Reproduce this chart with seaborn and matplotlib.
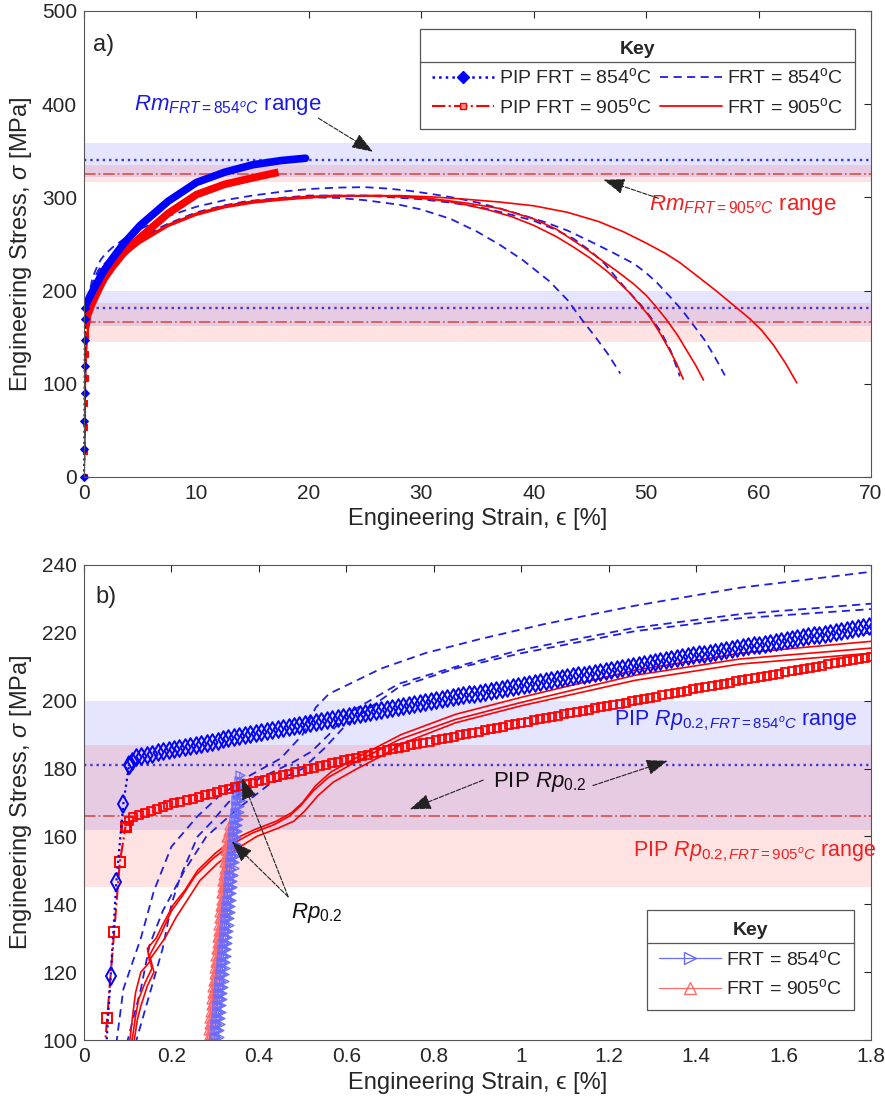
import numpy as np
import matplotlib
matplotlib.use("Agg")
import matplotlib.pyplot as plt
import seaborn as sns
from matplotlib.lines import Line2D
from matplotlib.patheffects import AbstractPathEffect
from matplotlib.markers import MarkerStyle
from matplotlib.path import Path
from matplotlib.transforms import Affine2D, IdentityTransform
from matplotlib.colors import to_rgba
from matplotlib.ticker import FuncFormatter

# ---------------- data (strain in %, stress in MPa) ----------------
pip854_strain = [0, 0.02, 0.034, 0.047, 0.061, 0.074, 0.09, 0.103, 0.117, 0.2, 0.311, 0.5,
                 0.677, 1.0, 1.4, 1.8, 2.5, 3.5, 5, 7.5, 10, 12.5, 15, 17.5, 19.7]
pip854_stress = [0, 30, 60, 90, 118.8, 146.6, 169.7, 181, 183.5, 185.5, 188.4, 193,
                 197.3, 204.5, 213.5, 222, 234, 250, 270, 296, 316, 327, 335, 339.5, 342]

pip905_strain = [0, 0.012, 0.024, 0.036, 0.053, 0.069, 0.082, 0.095, 0.107, 0.2, 0.33, 0.5,
                 0.68, 1.0, 1.4, 1.8, 2.5, 3.5, 5, 7.5, 10, 12.5, 15, 17.3]
pip905_stress = [0, 28, 54, 79, 106.6, 131.9, 152.5, 162.9, 165.5, 169.5, 174, 179.5,
                 185, 193.5, 203.5, 213, 225, 240, 257, 283, 303, 314, 321, 327]

frt854_a_strain = [0, 0.075, 0.09, 0.13, 0.16, 0.2, 0.26, 0.31, 0.38, 0.45, 0.5, 0.53, 0.56,
                   0.6, 0.68, 0.78, 0.9, 1.05, 1.26, 1.5, 1.8, 2.5, 3.5, 5, 7.5, 10, 12.5,
                   15, 17.5, 20, 22.5, 25, 27, 29, 31, 33, 35, 37, 39, 41, 43, 45, 47,
                   48.9, 50, 51, 52, 53.2, 54.2, 55.2, 56.1, 57]
frt854_a_stress = [0, 100, 115, 130, 144, 157, 166, 172, 178, 183, 190, 198, 202,
                   204.5, 209.5, 214, 218, 222.5, 228, 233.3, 238, 246, 255, 266, 280, 290, 297,
                   302, 306, 309, 310.5, 311, 309.5, 307, 303.5, 299.5, 294.5, 288, 281, 273.5, 264.5,
                   253, 241, 229, 219, 208, 195, 179, 163, 147, 129, 109]

frt854_b_strain = [0, 0.12, 0.16, 0.18, 0.2, 0.22, 0.26, 0.29, 0.33, 0.4, 0.48, 0.52, 0.56,
                   0.6, 0.72, 0.85, 1.0, 1.26, 1.5, 1.8, 2.5, 3.5, 5, 7.5, 10, 12.5, 14.5,
                   17, 20, 22.5, 25, 28.1, 30, 32.6, 35, 37, 39, 41.4, 43, 44.4, 45.5,
                   46.6, 47.7]
frt854_b_stress = [0, 100, 118, 127, 140, 148, 160, 164, 170, 177, 182, 185, 190,
                   196, 205, 210, 215, 221.5, 225.5, 228.6, 236, 246, 257, 272, 284, 291.5, 296,
                   298.5, 300, 299.5, 297, 292, 287, 277, 263, 249, 233, 210, 190, 167, 150,
                   132, 111]

frt854_c_strain = [0, 0.1, 0.13, 0.15, 0.18, 0.23, 0.28, 0.35, 0.42, 0.5, 0.55, 0.6, 0.72,
                   0.85, 1.0, 1.26, 1.5, 1.8, 2.5, 3.5, 5, 7.5, 10, 12.5, 15, 17.5, 20, 25,
                   30, 32.5, 35, 37.5, 40, 42, 43.5, 45, 46.3, 47.4, 48.5, 49.5, 50.3, 51.3,
                   52.2, 53]
frt854_c_stress = [0, 100, 115, 128, 138, 150, 160, 168, 175, 180, 186, 193, 204,
                   209.5, 214, 220.5, 224.3, 227, 234, 244, 255, 271, 283, 290.5, 296, 299.5, 302, 302,
                   298, 294.5, 290, 283, 275, 265, 256, 243, 229, 213, 198, 185, 173, 156,
                   135, 108]

frt905_a_strain = [0, 0.105, 0.112, 0.118, 0.13, 0.15, 0.145, 0.165, 0.18, 0.205, 0.23, 0.26,
                   0.3, 0.34, 0.39, 0.44, 0.475, 0.5, 0.53, 0.565, 0.62, 0.68, 0.725, 0.85, 1.0,
                   1.26, 1.5, 1.8, 2.5, 3.5, 5, 7.5, 10, 12.5, 15, 17.4, 20, 22, 26.3, 30, 32,
                   34, 36, 38, 40, 42, 43.5, 45, 46.5, 47.4, 48.5, 49.5, 50.3, 51.2, 52, 52.7,
                   53.3]
frt905_a_stress = [0, 100, 108, 114, 120, 123, 127, 130, 134, 140, 144, 150,
                   155, 159, 162, 164.5, 167, 170, 175, 179, 183, 187, 190, 196, 201,
                   209, 214, 217.5, 227, 240, 254, 271, 283, 291, 296, 299, 301, 302, 302, 299,
                   296.5, 292, 286.5, 279.5, 270, 258, 247, 235, 221, 211, 198, 184, 172, 155,
                   138, 122, 105]

frt905_b_strain = [0, 0.11, 0.118, 0.125, 0.14, 0.155, 0.15, 0.175, 0.2, 0.225, 0.255, 0.295,
                   0.335, 0.385, 0.435, 0.47, 0.495, 0.525, 0.56, 0.615, 0.675, 0.72, 0.85, 1.0,
                   1.26, 1.5, 1.8, 2.5, 3.5, 5, 7.5, 10, 12.5, 15, 17.4, 20, 22, 26.3, 30, 34,
                   37, 40, 42, 43, 44.5, 46, 47.5, 48.9, 50, 51, 51.8, 52.8, 53.6, 54.4, 55.1]
frt905_b_stress = [0, 100, 107, 112, 117, 121, 125, 131, 138, 142.5, 148.5, 153.5,
                   157.5, 161, 163.5, 166, 169, 173.5, 177.5, 181.5, 185.5, 188.5, 194.5, 199.5,
                   207.5, 212.3, 215.5, 225, 238, 252, 270, 282, 290, 295, 298, 300, 301, 302, 300,
                   294, 288, 277, 266, 258, 246, 233, 220, 207, 195, 181, 169, 152, 136, 120, 104]

frt905_c_strain = [0, 0.115, 0.122, 0.13, 0.145, 0.16, 0.152, 0.185, 0.21, 0.235, 0.265, 0.305,
                   0.345, 0.395, 0.445, 0.48, 0.505, 0.535, 0.57, 0.625, 0.685, 0.73, 0.85, 1.0,
                   1.26, 1.5, 1.8, 2.5, 3.5, 5, 7.5, 10, 12.5, 15, 17.4, 20, 22, 28, 31, 34, 37,
                   40, 43, 45.8, 48, 50, 51.7, 53, 54.5, 56.2, 57.7, 59.2, 60.3, 61.3, 62.4, 63.4]
frt905_c_stress = [0, 100, 106, 110, 116, 120, 124, 130, 136, 141, 147, 152,
                   156, 160, 162.5, 164.5, 167.5, 172, 176, 180, 184, 187.5, 193.5, 198.5,
                   206, 210.8, 214, 224, 237, 251, 269, 281, 289, 294, 297, 299.5, 301, 302, 300.5,
                   298, 295, 291, 284, 274, 263, 251, 240, 230, 216, 200, 185, 170, 157, 142, 122,
                   101]

# 0.2 % offset lines (Rp0.2 construction)
offset854_strain = [[0.29, 0.352], [0.295, 0.357], [0.30, 0.361]]
offset854_stress = [[90, 176], [90, 179], [90, 178]]
offset905_strain = [[0.275, 0.326], [0.279, 0.331], [0.282, 0.334]]
offset905_stress = [[90, 160], [90, 164], [90, 162]]

# PIP estimates: mean and range
pip_rm854 = 340
pip_rm854_range = (322, 358)
pip_rm905 = 325
pip_rm905_range = (316, 335)
pip_rp854 = 181
pip_rp854_range = (162, 200)
pip_rp905 = 166
pip_rp905_range = (145, 187)

xticks_a = [0, 10, 20, 30, 40, 50, 60, 70]
yticks_a = [0, 100, 200, 300, 400, 500]
xticks_b = [0, 0.2, 0.4, 0.6, 0.8, 1.0, 1.2, 1.4, 1.6, 1.8]
yticks_b = [100, 120, 140, 160, 180, 200, 220, 240]

# ---------------- style ----------------
sns.set_theme(style="white")
plt.rcParams["font.family"] = ["Liberation Sans", "DejaVu Sans"]
plt.rcParams.update({
    "mathtext.fontset": "custom",
    "mathtext.rm": "Liberation Sans",
    "mathtext.it": "Liberation Sans:italic",
    "mathtext.bf": "Liberation Sans:bold",
    "mathtext.sf": "Liberation Sans",
    "axes.edgecolor": "#555555",
    "axes.linewidth": 0.8,
    "xtick.color": "#262626",
    "ytick.color": "#262626",
    "text.color": "#262626",
    "axes.labelcolor": "#262626",
})

BLUE = "#0000ff"
RED = "#ff0000"
BLUE_T = "#1a1ae6"
RED_T = "#f02020"
LBLUE = (0.42, 0.42, 1.0)
LRED = (1.0, 0.42, 0.42)


class MarkerChain(AbstractPathEffect):
    """Draws a marker repeatedly along a path at a fixed on-screen spacing."""

    def __init__(self, marker, size, spacing, color, lw=1.0, fill=None, draw_line=False):
        super().__init__()
        self.marker = MarkerStyle(marker)
        self.size = size
        self.spacing = spacing
        self.color = to_rgba(color)
        self.lw = lw
        self.fill = fill
        self.draw_line = draw_line

    def draw_path(self, renderer, gc, tpath, affine, rgbFace=None):
        if self.draw_line:
            renderer.draw_path(gc, tpath, affine, rgbFace)
        verts = affine.transform(tpath.vertices)
        if len(verts) < 2:
            return
        seg = np.hypot(*np.diff(verts, axis=0).T)
        cum = np.concatenate([[0.0], np.cumsum(seg)])
        step = renderer.points_to_pixels(self.spacing)
        dist = np.arange(0.0, cum[-1] + 1e-9, step)
        px = np.interp(dist, cum, verts[:, 0])
        py = np.interp(dist, cum, verts[:, 1])
        gc0 = renderer.new_gc()
        gc0.copy_properties(gc)
        gc0.set_dashes(0, None)
        gc0.set_linewidth(self.lw)
        gc0.set_alpha(None)
        gc0.set_foreground(self.color, isRGBA=True)
        ms = renderer.points_to_pixels(self.size)
        mtr = self.marker.get_transform() + Affine2D().scale(ms)
        renderer.draw_markers(gc0, self.marker.get_path(), mtr,
                              Path(np.column_stack([px, py])), IdentityTransform(),
                              self.fill)
        gc0.restore()


W, H = 885, 1097
fig = plt.figure(figsize=(W / 100, H / 100), dpi=100)
ax1 = fig.add_axes([84 / W, 1 - 477 / H, 787 / W, 466 / H])
ax2 = fig.add_axes([84 / W, 1 - 1040 / H, 787 / W, 475 / H])

exp854 = [(frt854_a_strain, frt854_a_stress), (frt854_b_strain, frt854_b_stress),
          (frt854_c_strain, frt854_c_stress)]
exp905 = [(frt905_a_strain, frt905_a_stress), (frt905_b_strain, frt905_b_stress),
          (frt905_c_strain, frt905_c_stress)]

def draw_bands(ax):
    ax.axhspan(*pip_rm854_range, color=BLUE, alpha=0.10, lw=0, zorder=0)
    ax.axhspan(*pip_rm905_range, color=RED, alpha=0.11, lw=0, zorder=0)
    ax.axhspan(*pip_rp854_range, color=BLUE, alpha=0.10, lw=0, zorder=0)
    ax.axhspan(*pip_rp905_range, color=RED, alpha=0.11, lw=0, zorder=0)
    for val in (pip_rm854, pip_rp854):
        ax.axhline(val, color="#3a3ad8", ls=":", lw=1.7, zorder=1)
    for val in (pip_rm905, pip_rp905):
        ax.axhline(val, color="#d85a5a", ls="-.", lw=1.3, zorder=1)

def draw_experiments(ax):
    for xs, ys in exp854:
        sns.lineplot(x=xs, y=ys, ax=ax, sort=False, estimator=None, errorbar=None,
                     color="#1f1fe0", lw=1.3, ls=(0, (4.5, 3)), zorder=3)
    for xs, ys in exp905:
        sns.lineplot(x=xs, y=ys, ax=ax, sort=False, estimator=None, errorbar=None,
                     color=RED, lw=1.2, ls="-", zorder=3)

# ---------------- panel a ----------------
draw_bands(ax1)
draw_experiments(ax1)
k854, k905 = 7, 7
sns.lineplot(x=pip854_strain, y=pip854_stress, ax=ax1, sort=False, estimator=None,
             errorbar=None, color=BLUE, ls=":", lw=1.5, marker="D", ms=4.5,
             markevery=list(range(k854 + 1)), markerfacecolor=BLUE,
             markeredgecolor=BLUE, zorder=5, clip_on=False)
sns.lineplot(x=pip905_strain, y=pip905_stress, ax=ax1, sort=False, estimator=None,
             errorbar=None, color=RED, ls="-.", lw=1.5, marker="s", ms=4.5,
             markevery=list(range(k905 + 1)), markerfacecolor=RED,
             markeredgecolor=RED, zorder=4)
sns.lineplot(x=pip905_strain[k905:], y=pip905_stress[k905:], ax=ax1, sort=False,
             estimator=None, errorbar=None, color=RED, lw=5.5, solid_capstyle="butt", zorder=4)
sns.lineplot(x=pip854_strain[k854:], y=pip854_stress[k854:], ax=ax1, sort=False,
             estimator=None, errorbar=None, color=BLUE, lw=5.5, solid_capstyle="round", zorder=5)

ax1.set_xlim(0, 70)
ax1.set_ylim(0, 500)
ax1.set_xticks(xticks_a)
ax1.set_yticks(yticks_a)
xlab = "Engineering Strain, \u03f5 [%]"
ylab = r"Engineering Stress, $\sigma$ [MPa]"
ax1.set_xlabel(xlab, fontsize=17, labelpad=4)
ax1.set_ylabel(ylab, fontsize=17, labelpad=6)

ax1.text(0.012, 0.928, "a)", transform=ax1.transAxes, fontsize=17, va="center", ha="left")

arrow_kw = dict(arrowstyle="-|>,head_length=1.1,head_width=0.4", color="#222222", lw=0.8,
                ls=(0, (4, 1.5)), shrinkA=0, shrinkB=0, mutation_scale=12)
ax1.text(12.8, 399, r"$\mathit{Rm}_{\mathit{FRT=854^{o}C}}$ range", color=BLUE_T,
         fontsize=16, ha="center", va="center", zorder=8)
ax1.annotate("", xy=(25.7, 349), xytext=(20.85, 385), arrowprops=arrow_kw, zorder=8)
ax1.text(58.6, 292, r"$\mathit{Rm}_{\mathit{FRT=905^{o}C}}$ range", color=RED_T,
         fontsize=16, ha="center", va="center", zorder=8)
ax1.annotate("", xy=(46.2, 319), xytext=(51.1, 299), arrowprops=arrow_kw, zorder=8)

deg = r"$^\mathrm{o}$"
leg_kw = dict(borderaxespad=0, title="Key",
              title_fontproperties={"weight": "bold", "size": 14},
              fontsize=14, frameon=True, fancybox=False, edgecolor="#555555",
              framealpha=1, facecolor="white", handlelength=3.2,
              handletextpad=0.25, labelspacing=0.5, borderpad=0.6, numpoints=1)
h1 = Line2D([], [], color=BLUE, ls=":", lw=1.8, marker="D", ms=6, mfc=BLUE, mec=BLUE)
h2 = Line2D([], [], color=RED, ls="-.", lw=1.5, marker="s", ms=5, mfc="#ff9090", mec=RED)
h3 = Line2D([], [], color="#1f1fe0", ls=(0, (4.5, 3)), lw=1.3)
h4 = Line2D([], [], color=RED, ls="-", lw=1.3)
leg1 = ax1.legend([h1, h2, h3, h4],
                  [f"PIP FRT = 854{deg}C", f"PIP FRT = 905{deg}C",
                   f"FRT = 854{deg}C", f"FRT = 905{deg}C"],
                  ncol=2, loc="upper right", bbox_to_anchor=(0.9797, 0.9614),
                  columnspacing=0.4, **leg_kw)
leg1.get_frame().set_linewidth(0.9)
leg1.set_zorder(10)

# ---------------- panel b ----------------
draw_bands(ax2)
draw_experiments(ax2)
for xs, ys in zip(offset905_strain, offset905_stress):
    sns.lineplot(x=xs, y=ys, ax=ax2, sort=False, estimator=None, errorbar=None,
                 color=LRED, lw=0.8, zorder=4,
                 path_effects=[MarkerChain("^", 6.5, 4.5, LRED, lw=0.9, draw_line=True)])
for xs, ys in zip(offset854_strain, offset854_stress):
    sns.lineplot(x=xs, y=ys, ax=ax2, sort=False, estimator=None, errorbar=None,
                 color=LBLUE, lw=0.8, zorder=4,
                 path_effects=[MarkerChain(">", 6.5, 4.5, LBLUE, lw=0.9, draw_line=True)])

sns.lineplot(x=pip905_strain[:k905 + 1], y=pip905_stress[:k905 + 1], ax=ax2, sort=False,
             estimator=None, errorbar=None, color=RED, ls="-.", lw=1.5, marker="s", ms=6.5,
             markerfacecolor="none", markeredgecolor=RED, markeredgewidth=1.4, zorder=5)
sns.lineplot(x=pip905_strain[k905:], y=pip905_stress[k905:], ax=ax2, sort=False,
             estimator=None, errorbar=None, color=RED, lw=1.0, zorder=5,
             path_effects=[MarkerChain("s", 6.4, 4.5, RED, lw=1.3)])
sns.lineplot(x=pip854_strain[:k854 + 1], y=pip854_stress[:k854 + 1], ax=ax2, sort=False,
             estimator=None, errorbar=None, color=BLUE, ls=":", lw=1.6, marker="d", ms=9,
             markerfacecolor="none", markeredgecolor=BLUE, markeredgewidth=1.4, zorder=6)
sns.lineplot(x=pip854_strain[k854:], y=pip854_stress[k854:], ax=ax2, sort=False,
             estimator=None, errorbar=None, color=BLUE, lw=1.0, zorder=6,
             path_effects=[MarkerChain("d", 8.5, 4.0, BLUE, lw=1.4)])

ax2.set_xlim(0, 1.8)
ax2.set_ylim(100, 240)
ax2.set_xticks(xticks_b)
ax2.set_yticks(yticks_b)
ax2.xaxis.set_major_formatter(FuncFormatter(lambda v, p: f"{v:g}"))
ax2.set_xlabel(xlab, fontsize=17, labelpad=4)
ax2.set_ylabel(ylab, fontsize=17, labelpad=6)
ax2.text(0.015, 0.933, "b)", transform=ax2.transAxes, fontsize=17, va="center", ha="left")

ax2.text(1.49, 194, r"PIP $\mathit{Rp}_{\mathit{0.2,FRT=854^{o}C}}$ range", color=BLUE_T,
         fontsize=15.5, ha="center", va="center", zorder=8)
ax2.text(1.535, 155.4, r"PIP $\mathit{Rp}_{\mathit{0.2,FRT=905^{o}C}}$ range", color=RED_T,
         fontsize=15.5, ha="center", va="center", zorder=8)
ax2.text(1.043, 176, r"PIP $\mathit{Rp}_{\mathit{0.2}}$", color="#111111",
         fontsize=16, ha="center", va="center", zorder=8)
ax2.annotate("", xy=(0.745, 168), xytext=(0.913, 176.6), arrowprops=arrow_kw, zorder=8)
ax2.annotate("", xy=(1.335, 182.3), xytext=(1.164, 175), arrowprops=arrow_kw, zorder=8)
ax2.text(0.531, 137.5, r"$\mathit{Rp}_{\mathit{0.2}}$", color="#111111",
         fontsize=16, ha="center", va="center", zorder=8)
ax2.annotate("", xy=(0.361, 177.1), xytext=(0.467, 142.2), arrowprops=arrow_kw, zorder=8)
ax2.annotate("", xy=(0.338, 158.5), xytext=(0.467, 142.2), arrowprops=arrow_kw, zorder=8)

hb1 = Line2D([], [], color=LBLUE, lw=0.9, marker=">", ms=8, mfc="none", mec=LBLUE)
hb2 = Line2D([], [], color=LRED, lw=0.9, marker="^", ms=8, mfc="none", mec=LRED)
leg2 = ax2.legend([hb1, hb2], [f"FRT = 854{deg}C", f"FRT = 905{deg}C"],
                  loc="lower right", bbox_to_anchor=(0.978, 0.063), **leg_kw)
leg2.get_frame().set_linewidth(0.9)
leg2.set_zorder(10)

for ax in (ax1, ax2):
    ax.tick_params(direction="in", top=True, right=True, length=5, width=0.8,
                   labelsize=15, pad=5, colors="#262626")
    for sp in ax.spines.values():
        sp.set_color("#555555")
        sp.set_linewidth(0.8)
        sp.set_zorder(9)

# separator line under the legend titles
fig.canvas.draw()
renderer = fig.canvas.get_renderer()
inv = fig.transFigure.inverted()
for leg in (leg1, leg2):
    fb = leg.get_frame().get_window_extent(renderer)
    tb = leg.get_title().get_window_extent(renderer)
    y = tb.y0 - 4
    (x0, yy), (x1, _) = inv.transform([(fb.x0, y), (fb.x1, y)])
    fig.add_artist(Line2D([x0, x1], [yy, yy], transform=fig.transFigure,
                          color="#555555", lw=0.9, zorder=20))

fig.savefig("out.png", dpi=100)
